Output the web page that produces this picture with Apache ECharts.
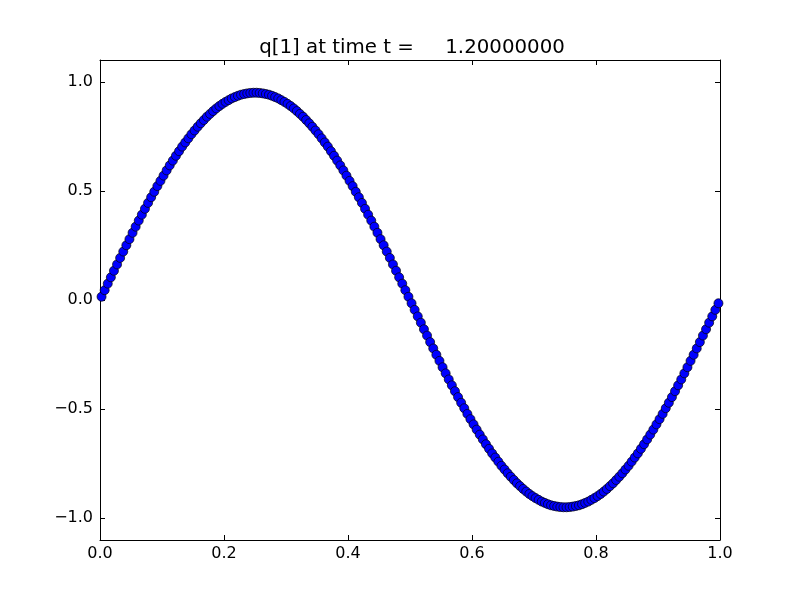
<!DOCTYPE html>
<html>
<head>
<meta charset="utf-8">
<script src="https://cdn.jsdelivr.net/npm/echarts@6/dist/echarts.min.js"></script>
<style>html,body{margin:0;padding:0;background:#fff}#c{width:800px;height:600px}</style>
</head>
<body>
<div id="c"></div>
<script>
const titleText = 'q[1] at time t =     1.20000000';
const xTicks = [0.0, 0.2, 0.4, 0.6, 0.8, 1.0];
const yTicks = [-1.0, -0.5, 0.0, 0.5, 1.0];
// q[1] values at the 200 cell centres
const qValues = [
  0.015, 0.045, 0.075, 0.104, 0.134, 0.163, 0.193, 0.222, 0.251, 0.279,
  0.308, 0.336, 0.364, 0.391, 0.418, 0.445, 0.471, 0.496, 0.522, 0.546,
  0.570, 0.594, 0.617, 0.639, 0.661, 0.682, 0.703, 0.722, 0.741, 0.760,
  0.777, 0.794, 0.810, 0.825, 0.840, 0.853, 0.866, 0.878, 0.889, 0.899,
  0.908, 0.916, 0.924, 0.930, 0.936, 0.941, 0.944, 0.947, 0.949, 0.950,
  0.950, 0.949, 0.947, 0.944, 0.941, 0.936, 0.930, 0.924, 0.916, 0.908,
  0.899, 0.889, 0.878, 0.866, 0.853, 0.840, 0.825, 0.810, 0.794, 0.777,
  0.760, 0.741, 0.722, 0.703, 0.682, 0.661, 0.639, 0.617, 0.594, 0.570,
  0.546, 0.522, 0.496, 0.471, 0.445, 0.418, 0.391, 0.364, 0.336, 0.308,
  0.279, 0.251, 0.222, 0.193, 0.163, 0.134, 0.104, 0.075, 0.045, 0.015,
  -0.015, -0.045, -0.075, -0.104, -0.134, -0.163, -0.193, -0.222, -0.251, -0.279,
  -0.308, -0.336, -0.364, -0.391, -0.418, -0.445, -0.471, -0.496, -0.522, -0.546,
  -0.570, -0.594, -0.617, -0.639, -0.661, -0.682, -0.703, -0.722, -0.741, -0.760,
  -0.777, -0.794, -0.810, -0.825, -0.840, -0.853, -0.866, -0.878, -0.889, -0.899,
  -0.908, -0.916, -0.924, -0.930, -0.936, -0.941, -0.944, -0.947, -0.949, -0.950,
  -0.950, -0.949, -0.947, -0.944, -0.941, -0.936, -0.930, -0.924, -0.916, -0.908,
  -0.899, -0.889, -0.878, -0.866, -0.853, -0.840, -0.825, -0.810, -0.794, -0.777,
  -0.760, -0.741, -0.722, -0.703, -0.682, -0.661, -0.639, -0.617, -0.594, -0.570,
  -0.546, -0.522, -0.496, -0.471, -0.445, -0.418, -0.391, -0.364, -0.336, -0.308,
  -0.279, -0.251, -0.222, -0.193, -0.163, -0.134, -0.104, -0.075, -0.045, -0.015
];
const nCells = qValues.length;
// cell centres on [0,1]
const xCentres = qValues.map((_, i) => (i + 0.5) / nCells);
const points = qValues.map((v, i) => [xCentres[i], v]);

const font = 'DejaVu Sans';
const fmt = v => (v < 0 ? '\u2212' : '') + Math.abs(v).toFixed(1);
const lineStyle = {color: '#000', width: 1};

const chart = echarts.init(document.getElementById('c'), null, {renderer: 'canvas'});
chart.setOption({
  animation: false,
  backgroundColor: '#fff',
  title: {
    text: titleText, left: 407, top: 33, textAlign: 'center',
    textStyle: {fontFamily: font, fontSize: 19.8, fontWeight: 'normal', color: '#000'}
  },
  grid: {left: 100, right: 80, top: 60, bottom: 60, containLabel: false},
  xAxis: [{
    type: 'value', min: 0, max: 1, interval: 0.2,
    axisLine: {show: true, onZero: false, lineStyle},
    axisTick: {show: true, inside: true, length: 5, lineStyle},
    axisLabel: {show: true, margin: 6, fontFamily: font, fontSize: 16, color: '#000', formatter: fmt},
    splitLine: {show: false}
  }, {
    type: 'value', position: 'top', min: 0, max: 1, interval: 0.2,
    axisLine: {show: true, onZero: false, lineStyle},
    axisTick: {show: true, inside: true, length: 5, lineStyle},
    axisLabel: {show: false}, splitLine: {show: false}
  }],
  yAxis: [{
    type: 'value', min: -1.1, max: 1.1,
    axisLine: {show: true, onZero: false, lineStyle},
    axisTick: {show: true, inside: true, length: 5, lineStyle, customValues: yTicks},
    axisLabel: {show: true, margin: 7, fontFamily: font, fontSize: 16, color: '#000', formatter: fmt, customValues: yTicks},
    splitLine: {show: false}
  }, {
    type: 'value', position: 'right', min: -1.1, max: 1.1,
    axisLine: {show: true, onZero: false, lineStyle},
    axisTick: {show: true, inside: true, length: 5, lineStyle, customValues: yTicks},
    axisLabel: {show: false, customValues: yTicks}, splitLine: {show: false}
  }],
  series: [{
    type: 'scatter', xAxisIndex: 0, yAxisIndex: 0,
    data: points, symbol: 'circle', symbolSize: 9,
    itemStyle: {color: '#0000ff', borderColor: '#000', borderWidth: 0.7, opacity: 1},
    emphasis: {disabled: true}
  }]
});
</script>
</body>
</html>
